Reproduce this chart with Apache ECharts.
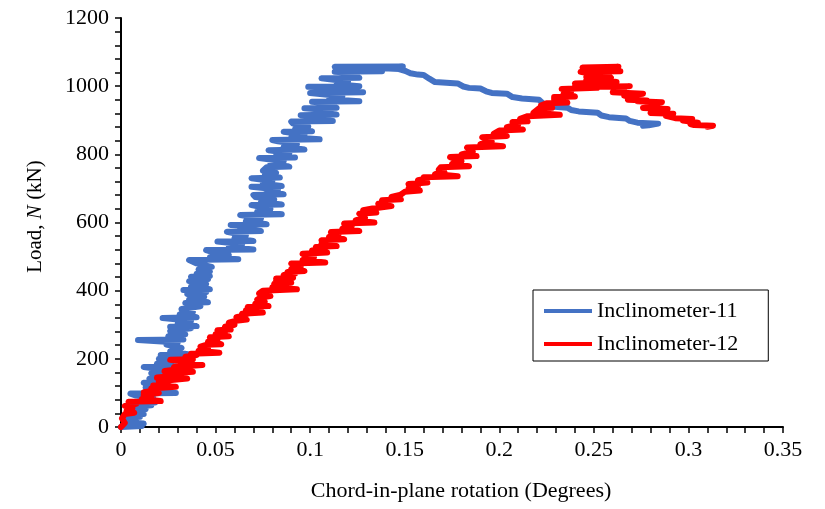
<!DOCTYPE html>
<html><head><meta charset="utf-8">
<script src="https://cdn.jsdelivr.net/npm/echarts@6/dist/echarts.min.js"></script>
<style>html,body{margin:0;padding:0;background:#fff}#c{width:825px;height:509px}</style>
</head><body><div id="c"></div>
<script>
var xTicks = { min: 0, max: 0.35, interval: 0.05 };
var yTicks = { min: 0, max: 1200, interval: 200 };
var seriesNames = ['Inclinometer-11', 'Inclinometer-12'];

var incl11 = [
[0.000,0],[0.011,3],[0.004,6],[0.012,10],[0.002,14],[0.008,20],[0.003,26],[0.010,30],[0.004,35],[0.012,38],[0.006,45],[0.013,52],[0.005,58],[0.016,64],[0.007,70],[0.018,72],[0.011,80],[0.017,86],[0.008,92],[0.005,98],[0.029,100],[0.014,104],[0.021,110],[0.013,116],[0.020,123],[0.012,130],[0.022,135],[0.015,142],[0.024,150],[0.016,158],[0.026,166],[0.012,176],[0.029,178],[0.019,186],[0.027,194],[0.020,200],[0.031,206],[0.021,211],[0.036,213],[0.026,222],[0.032,232],[0.024,242],[0.030,248],[0.009,255],[0.033,257],[0.025,266],[0.034,272],[0.026,282],[0.037,290],[0.026,294],[0.040,296],[0.030,304],[0.037,312],[0.022,320],[0.040,322],[0.031,330],[0.038,338],[0.032,346],[0.042,354],[0.034,364],[0.046,366],[0.036,374],[0.044,382],[0.035,390],[0.045,396],[0.033,402],[0.047,404],[0.037,412],[0.045,420],[0.036,428],[0.046,434],[0.037,441],[0.047,443],[0.040,450],[0.047,456],[0.041,462],[0.048,470],[0.040,480],[0.036,490],[0.062,492],[0.047,498],[0.057,505],[0.049,512],[0.045,519],[0.070,521],[0.057,528],[0.064,536],[0.051,544],[0.070,546],[0.060,554],[0.066,562],[0.056,573],[0.074,575],[0.063,582],[0.070,588],[0.058,593],[0.077,595],[0.066,604],[0.074,612],[0.063,622],[0.085,624],[0.072,632],[0.079,640],[0.069,651],[0.085,653],[0.074,660],[0.081,668],[0.071,675],[0.070,681],[0.086,683],[0.077,690],[0.083,697],[0.069,705],[0.085,707],[0.075,714],[0.080,722],[0.069,730],[0.084,732],[0.076,738],[0.082,746],[0.075,752],[0.077,762],[0.089,764],[0.079,772],[0.086,780],[0.073,789],[0.092,791],[0.082,797],[0.089,804],[0.078,812],[0.097,814],[0.086,822],[0.093,830],[0.083,838],[0.080,842],[0.105,844],[0.090,850],[0.097,858],[0.086,866],[0.101,868],[0.092,874],[0.099,882],[0.091,890],[0.090,896],[0.112,898],[0.100,904],[0.107,910],[0.095,915],[0.114,917],[0.103,924],[0.109,930],[0.097,935],[0.114,937],[0.105,943],[0.111,949],[0.101,954],[0.126,956],[0.110,962],[0.117,970],[0.100,980],[0.128,982],[0.112,988],[0.119,994],[0.099,998],[0.126,1000],[0.114,1006],[0.120,1014],[0.106,1023],[0.126,1025],[0.117,1032],[0.124,1038],[0.113,1042],[0.138,1044],[0.122,1050],[0.113,1057],[0.149,1058],[0.136,1053],[0.147,1050],[0.151,1043],
[0.149,1048],[0.153,1038],[0.157,1034],[0.160,1033],[0.163,1022],[0.166,1012],[0.172,1010],[0.178,1008],[0.181,999],[0.184,995],[0.190,993],[0.193,985],[0.196,980],[0.204,978],[0.207,968],[0.212,964],[0.221,960],[0.223,950],[0.226,941],[0.236,937],[0.238,930],[0.242,926],[0.252,922],[0.254,914],[0.258,909],[0.267,905],[0.269,898],[0.273,893],[0.284,890],[0.279,885],[0.276,884]
];

var incl12 = [
[0,0],[0.002,12],[0.0005,25],[0.002,38],[0.007,42],[0.003,48],[0.006,56],[0.002,62],[0.008,68],[0.004,74],[0.021,76],[0.011,82],[0.016,88],[0.012,94],[0.020,100],[0.012,102],[0.019,108],[0.016,113],[0.029,118],[0.017,122],[0.025,128],[0.020,134],[0.035,142],[0.019,145],[0.028,150],[0.024,156],[0.038,162],[0.023,164],[0.032,170],[0.028,176],[0.043,182],[0.030,184],[0.035,190],[0.026,197],[0.038,199],[0.034,206],[0.040,211],[0.037,215],[0.052,218],[0.041,224],[0.046,230],[0.042,236],[0.045,241],[0.053,243],[0.046,250],[0.051,256],[0.047,263],[0.057,266],[0.050,272],[0.055,278],[0.051,284],[0.058,286],[0.055,294],[0.060,300],[0.057,306],[0.061,312],[0.0665,315],[0.061,322],[0.066,328],[0.064,332],[0.075,336],[0.066,342],[0.070,347],[0.067,352],[0.078,355],[0.071,362],[0.076,368],[0.072,374],[0.074,380],[0.079,384],[0.073,392],[0.075,400],[0.093,404],[0.080,410],[0.085,416],[0.081,420],[0.090,424],[0.082,430],[0.086,434],[0.082,436],[0.091,438],[0.086,446],[0.092,450],[0.088,455],[0.097,458],[0.090,464],[0.095,470],[0.090,480],[0.108,483],[0.096,490],[0.102,498],[0.096,508],[0.109,512],[0.101,518],[0.106,523],[0.103,528],[0.114,531],[0.106,538],[0.110,543],[0.106,548],[0.118,551],[0.110,558],[0.115,565],[0.111,572],[0.126,575],[0.117,582],[0.122,590],[0.118,597],[0.134,600],[0.124,606],[0.129,614],[0.126,626],[0.135,629],[0.128,636],[0.133,641],[0.132,645],[0.143,648],[0.136,655],[0.141,660],[0.138,665],[0.148,668],[0.143,675],[0.148,682],[0.150,690],[0.158,694],[0.152,700],[0.157,707],[0.152,713],[0.162,717],[0.157,724],[0.162,729],[0.160,733],[0.178,736],[0.166,742],[0.171,748],[0.168,755],[0.169,762],[0.184,765],[0.175,772],[0.180,780],[0.174,792],[0.188,795],[0.180,800],[0.186,808],[0.183,820],[0.202,824],[0.190,830],[0.196,838],[0.191,850],[0.204,854],[0.197,860],[0.200,870],[0.2125,873],[0.204,880],[0.210,888],[0.207,895],[0.215,897],[0.211,904],[0.215,912],[0.232,916],[0.218,922],[0.221,935],[0.228,937],[0.222,943],[0.225,950],[0.236,952],[0.229,960],[0.229,968],[0.240,970],[0.234,978],[0.238,985],[0.233,992],[0.2517,995],[0.240,1000],[0.246,1004],[0.240,1008],[0.252,1010],[0.246,1018],[0.250,1022],[0.246,1027],[0.258,1029],[0.250,1035],[0.243,1042],[0.264,1044],[0.250,1050],[0.244,1055],[0.263,1057],[0.251,1048],
[0.256,1040],[0.259,1025],[0.254,1018],[0.262,1012],[0.255,1004],[0.252,998],[0.269,1000],[0.262,992],[0.266,986],[0.260,982],[0.276,978],[0.266,972],[0.271,965],[0.268,960],[0.278,958],[0.273,956],[0.286,953],[0.279,946],[0.283,940],[0.276,936],[0.289,933],[0.283,927],[0.280,921],[0.292,919],[0.288,913],[0.293,906],[0.302,904],[0.297,899],[0.298,896],[0.305,893],[0.301,889],[0.303,886],[0.313,884],[0.310,881]
];

var FONT = '"Liberation Serif", "Times New Roman", serif';
var chart = echarts.init(document.getElementById('c'), null, { renderer: 'canvas' });
chart.setOption({
  animation: false,
  backgroundColor: '#fff',
  grid: { left: 121, right: 42, top: 18, bottom: 82, containLabel: false },
  xAxis: {
    type: 'value', min: xTicks.min, max: xTicks.max, interval: xTicks.interval,
    name: 'Chord-in-plane rotation (Degrees)', nameLocation: 'middle', nameGap: 53,
    nameTextStyle: { fontFamily: FONT, fontSize: 22, color: '#000', padding: [0, 0, 0, 18] },
    axisLine: { lineStyle: { color: '#000', width: 2 } },
    axisTick: { show: true, length: 6, lineStyle: { color: '#000', width: 1.5 } },
    minorTick: { show: true, splitNumber: 5, length: 6, lineStyle: { color: '#000', width: 1.5 } },
    axisLabel: { fontFamily: FONT, fontSize: 22, color: '#000', margin: 12 },
    splitLine: { show: false }
  },
  yAxis: {
    type: 'value', min: yTicks.min, max: yTicks.max, interval: yTicks.interval,
    name: '{a|Load, }{i|N}{a| (kN)}', nameLocation: 'middle', nameGap: 75, nameRotate: 90,
    nameTextStyle: { fontFamily: FONT, fontSize: 21, color: '#000', padding: [0, 0, 0, 12],
      rich: { a: { fontFamily: FONT, fontSize: 21, color: '#000' }, i: { fontFamily: FONT, fontSize: 21, color: '#000', fontStyle: 'italic' } } },
    axisLine: { show: true, lineStyle: { color: '#000', width: 2 } },
    axisTick: { show: true, length: 6, lineStyle: { color: '#000', width: 1.5 } },
    minorTick: { show: true, splitNumber: 5, length: 6, lineStyle: { color: '#000', width: 1.5 } },
    axisLabel: { fontFamily: FONT, fontSize: 22, color: '#000', margin: 12, formatter: function (v) { return String(v); } },
    splitLine: { show: false }
  },
  legend: {
    orient: 'vertical', left: 533, top: 290,
    padding: [10, 30, 6, 11], itemGap: 11, itemWidth: 48, itemHeight: 4,
    borderColor: '#000', borderWidth: 1, backgroundColor: '#fff',
    icon: 'rect',
    textStyle: { fontFamily: FONT, fontSize: 22, color: '#000' },
    data: seriesNames
  },
  series: [
    { name: seriesNames[0], type: 'line', data: incl11, showSymbol: false, symbol: 'none',
      color: '#4472C4', lineStyle: { color: '#4472C4', width: 6, cap: 'round', join: 'round' }, z: 2 },
    { name: seriesNames[1], type: 'line', data: incl12, showSymbol: false, symbol: 'none',
      color: '#FF0000', lineStyle: { color: '#FF0000', width: 6, cap: 'round', join: 'round' }, z: 3 }
  ]
});
</script></body></html>
